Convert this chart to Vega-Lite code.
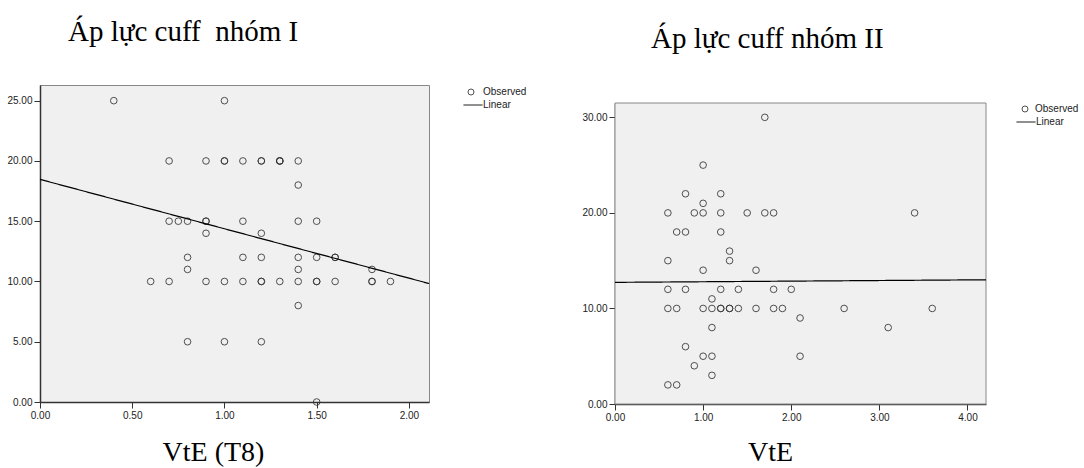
{
  "$schema": "https://vega.github.io/schema/vega-lite/v6.json",
  "background": "white",
  "padding": {"left": 6, "top": 17, "right": 0, "bottom": 0},
  "datasets": {
    "g1": [
      {"series": "Observed", "x": 0.4, "y": 25}, {"series": "Observed", "x": 1.0, "y": 25},
      {"series": "Observed", "x": 0.7, "y": 20}, {"series": "Observed", "x": 0.9, "y": 20}, {"series": "Observed", "x": 1.0, "y": 20}, {"series": "Observed", "x": 1.0, "y": 20}, {"series": "Observed", "x": 1.1, "y": 20}, {"series": "Observed", "x": 1.2, "y": 20}, {"series": "Observed", "x": 1.2, "y": 20}, {"series": "Observed", "x": 1.3, "y": 20}, {"series": "Observed", "x": 1.3, "y": 20}, {"series": "Observed", "x": 1.3, "y": 20}, {"series": "Observed", "x": 1.4, "y": 20},
      {"series": "Observed", "x": 1.4, "y": 18},
      {"series": "Observed", "x": 0.7, "y": 15}, {"series": "Observed", "x": 0.75, "y": 15}, {"series": "Observed", "x": 0.8, "y": 15}, {"series": "Observed", "x": 0.9, "y": 15}, {"series": "Observed", "x": 0.9, "y": 15}, {"series": "Observed", "x": 1.1, "y": 15}, {"series": "Observed", "x": 1.4, "y": 15}, {"series": "Observed", "x": 1.5, "y": 15},
      {"series": "Observed", "x": 0.9, "y": 14}, {"series": "Observed", "x": 1.2, "y": 14},
      {"series": "Observed", "x": 0.8, "y": 12}, {"series": "Observed", "x": 1.1, "y": 12}, {"series": "Observed", "x": 1.2, "y": 12}, {"series": "Observed", "x": 1.4, "y": 12}, {"series": "Observed", "x": 1.5, "y": 12}, {"series": "Observed", "x": 1.6, "y": 12}, {"series": "Observed", "x": 1.6, "y": 12},
      {"series": "Observed", "x": 0.8, "y": 11}, {"series": "Observed", "x": 1.4, "y": 11}, {"series": "Observed", "x": 1.8, "y": 11},
      {"series": "Observed", "x": 0.6, "y": 10}, {"series": "Observed", "x": 0.7, "y": 10}, {"series": "Observed", "x": 0.9, "y": 10}, {"series": "Observed", "x": 1.0, "y": 10}, {"series": "Observed", "x": 1.1, "y": 10}, {"series": "Observed", "x": 1.2, "y": 10}, {"series": "Observed", "x": 1.2, "y": 10}, {"series": "Observed", "x": 1.3, "y": 10}, {"series": "Observed", "x": 1.4, "y": 10}, {"series": "Observed", "x": 1.5, "y": 10}, {"series": "Observed", "x": 1.5, "y": 10}, {"series": "Observed", "x": 1.6, "y": 10}, {"series": "Observed", "x": 1.8, "y": 10}, {"series": "Observed", "x": 1.8, "y": 10}, {"series": "Observed", "x": 1.9, "y": 10},
      {"series": "Observed", "x": 1.4, "y": 8},
      {"series": "Observed", "x": 0.8, "y": 5}, {"series": "Observed", "x": 1.0, "y": 5}, {"series": "Observed", "x": 1.2, "y": 5},
      {"series": "Observed", "x": 1.5, "y": 0}
    ],
    "l1": [
      {"series": "Linear", "x": 0, "y": 18.47},
      {"series": "Linear", "x": 2.109, "y": 9.83}
    ],
    "g2": [
      {"series": "Observed", "x": 1.7, "y": 30},
      {"series": "Observed", "x": 1.0, "y": 25},
      {"series": "Observed", "x": 0.8, "y": 22}, {"series": "Observed", "x": 1.2, "y": 22},
      {"series": "Observed", "x": 1.0, "y": 21},
      {"series": "Observed", "x": 0.6, "y": 20}, {"series": "Observed", "x": 0.9, "y": 20}, {"series": "Observed", "x": 1.0, "y": 20}, {"series": "Observed", "x": 1.2, "y": 20}, {"series": "Observed", "x": 1.5, "y": 20}, {"series": "Observed", "x": 1.7, "y": 20}, {"series": "Observed", "x": 1.8, "y": 20}, {"series": "Observed", "x": 3.4, "y": 20},
      {"series": "Observed", "x": 0.7, "y": 18}, {"series": "Observed", "x": 0.8, "y": 18}, {"series": "Observed", "x": 1.2, "y": 18},
      {"series": "Observed", "x": 1.3, "y": 16},
      {"series": "Observed", "x": 0.6, "y": 15}, {"series": "Observed", "x": 1.3, "y": 15},
      {"series": "Observed", "x": 1.0, "y": 14}, {"series": "Observed", "x": 1.6, "y": 14},
      {"series": "Observed", "x": 0.6, "y": 12}, {"series": "Observed", "x": 0.8, "y": 12}, {"series": "Observed", "x": 1.2, "y": 12}, {"series": "Observed", "x": 1.4, "y": 12}, {"series": "Observed", "x": 1.8, "y": 12}, {"series": "Observed", "x": 2.0, "y": 12},
      {"series": "Observed", "x": 1.1, "y": 11},
      {"series": "Observed", "x": 0.6, "y": 10}, {"series": "Observed", "x": 0.7, "y": 10}, {"series": "Observed", "x": 1.0, "y": 10}, {"series": "Observed", "x": 1.1, "y": 10}, {"series": "Observed", "x": 1.2, "y": 10}, {"series": "Observed", "x": 1.2, "y": 10}, {"series": "Observed", "x": 1.3, "y": 10}, {"series": "Observed", "x": 1.3, "y": 10}, {"series": "Observed", "x": 1.4, "y": 10}, {"series": "Observed", "x": 1.6, "y": 10}, {"series": "Observed", "x": 1.8, "y": 10}, {"series": "Observed", "x": 1.9, "y": 10}, {"series": "Observed", "x": 2.6, "y": 10}, {"series": "Observed", "x": 3.6, "y": 10},
      {"series": "Observed", "x": 2.1, "y": 9},
      {"series": "Observed", "x": 1.1, "y": 8}, {"series": "Observed", "x": 3.1, "y": 8},
      {"series": "Observed", "x": 0.8, "y": 6},
      {"series": "Observed", "x": 1.0, "y": 5}, {"series": "Observed", "x": 1.1, "y": 5}, {"series": "Observed", "x": 2.1, "y": 5},
      {"series": "Observed", "x": 0.9, "y": 4},
      {"series": "Observed", "x": 1.1, "y": 3},
      {"series": "Observed", "x": 0.6, "y": 2}, {"series": "Observed", "x": 0.7, "y": 2}
    ],
    "l2": [
      {"series": "Linear", "x": 0, "y": 12.73},
      {"series": "Linear", "x": 4.21, "y": 13.0}
    ],
    "frame2": [
      {"x0": 0, "x1": 4.21, "y0": 0, "y1": 31.5}
    ]
  },
  "config": {
    "view": {"fill": "#f0f0f0", "stroke": "#888888", "strokeWidth": 1},
    "axis": {
      "grid": false, "zindex": 1, "labelFlush": false,
      "labelFont": "Liberation Sans", "labelFontSize": 10, "labelColor": "#222222",
      "domainColor": "#333333", "domainWidth": 1.5,
      "tickColor": "#333333", "tickSize": 6, "labelPadding": 2,
      "titleFont": "Liberation Serif", "titleFontSize": 28, "titleFontWeight": "normal", "titleColor": "#000000"
    },
    "legend": {
      "title": null, "orient": "none", "padding": 0,
      "labelFont": "Liberation Sans", "labelFontSize": 10, "labelColor": "#222222",
      "rowPadding": 0, "symbolStrokeWidth": 1
    },
    "title": {"font": "Liberation Serif", "fontSize": 29, "fontWeight": "normal", "color": "#000000", "anchor": "start", "frame": "group", "baseline": "alphabetic"}
  },
  "hconcat": [
    {
      "width": 389, "height": 317,
      "title": {"text": "Áp lực cuff \u00a0nhóm I", "dx": 28, "offset": 38},
      "layer": [
        {
          "data": {"name": "g1"},
          "mark": {"type": "point", "shape": "circle", "size": 44, "strokeWidth": 1, "filled": false, "color": "#333333", "opacity": 0.85},
          "encoding": {
            "x": {"field": "x", "type": "quantitative", "scale": {"domain": [0, 2.109], "nice": false, "zero": false},
              "axis": {"values": [0, 0.5, 1, 1.5, 2], "format": ".2f", "title": "VtE (T8)", "titleX": 173, "titleY": 58, "titleAlign": "center", "titleBaseline": "alphabetic"}},
            "y": {"field": "y", "type": "quantitative", "scale": {"domain": [0, 26.3], "nice": false},
              "axis": {"values": [0, 5, 10, 15, 20, 25], "format": ".2f", "title": null}},
            "shape": {"field": "series", "type": "nominal", "scale": {"domain": ["Observed"], "range": ["circle"]},
              "legend": {"legendX": 426, "legendY": 2, "symbolSize": 36, "labelOffset": 7}}
          }
        },
        {
          "data": {"name": "l1"},
          "mark": {"type": "line", "strokeWidth": 1.2, "color": "#000000"},
          "encoding": {
            "x": {"field": "x", "type": "quantitative"},
            "y": {"field": "y", "type": "quantitative"},
            "strokeDash": {"field": "series", "type": "nominal", "scale": {"domain": ["Linear"], "range": [[1, 0]]},
              "legend": {"legendX": 423, "legendY": 10, "symbolSize": 361, "labelOffset": 0, "symbolStrokeColor": "#000000"}}
          }
        }
      ]
    },
    {
      "width": 371, "height": 319,
      "view": {"fill": null, "stroke": null},
      "title": {"text": "Áp lực cuff nhóm II", "dx": 36, "offset": 31},
      "layer": [
        {
          "data": {"name": "frame2"},
          "mark": {"type": "rect", "fill": "#f0f0f0", "stroke": "#888888", "strokeWidth": 1},
          "encoding": {
            "x": {"field": "x0", "type": "quantitative"},
            "x2": {"field": "x1"},
            "y": {"field": "y0", "type": "quantitative"},
            "y2": {"field": "y1"}
          }
        },
        {
          "data": {"name": "g2"},
          "mark": {"type": "point", "shape": "circle", "size": 44, "strokeWidth": 1, "filled": false, "color": "#333333", "opacity": 0.85},
          "encoding": {
            "x": {"field": "x", "type": "quantitative", "scale": {"domain": [0, 4.21], "nice": false, "zero": false},
              "axis": {"values": [0, 1, 2, 3, 4], "format": ".2f", "title": "VtE", "titleX": 155, "titleY": 56, "titleAlign": "center", "titleBaseline": "alphabetic"}},
            "y": {"field": "y", "type": "quantitative", "scale": {"domain": [0, 31.5], "nice": false, "range": [319, 18]},
              "axis": {"values": [0, 10, 20, 30], "format": ".2f", "title": null}},
            "shape": {"field": "series", "type": "nominal", "scale": {"domain": ["Observed"], "range": ["circle"]},
              "legend": {"legendX": 405, "legendY": 19, "symbolSize": 36, "labelOffset": 5}}
          }
        },
        {
          "data": {"name": "l2"},
          "mark": {"type": "line", "strokeWidth": 1.2, "color": "#000000"},
          "encoding": {
            "x": {"field": "x", "type": "quantitative"},
            "y": {"field": "y", "type": "quantitative"},
            "strokeDash": {"field": "series", "type": "nominal", "scale": {"domain": ["Linear"], "range": [[1, 0]]},
              "legend": {"legendX": 401, "legendY": 27, "symbolSize": 361, "labelOffset": 0, "symbolStrokeColor": "#000000"}}
          }
        }
      ]
    }
  ],
  "spacing": 53,
  "resolve": {"scale": {"x": "independent", "y": "independent", "shape": "independent", "strokeDash": "independent"}, "legend": {"shape": "independent", "strokeDash": "independent"}}
}
